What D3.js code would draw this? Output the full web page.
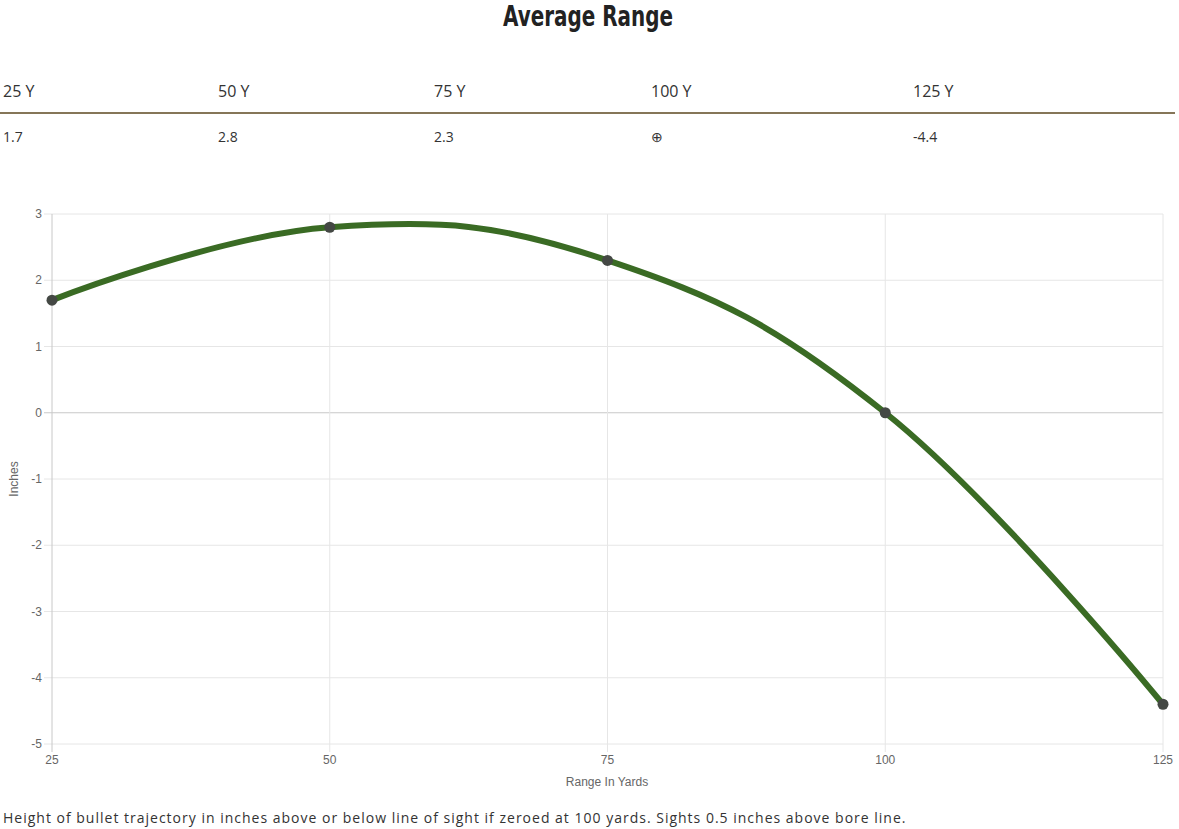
<!DOCTYPE html>
<html>
<head>
<meta charset="utf-8">
<script src="https://cdn.jsdelivr.net/npm/d3@7/dist/d3.min.js"></script>
<style>
  html, body { margin: 0; padding: 0; background: #fff; }
  svg { display: block; }
</style>
</head>
<body>
<svg id="chart" width="1179" height="829"></svg>
<script>
const title = "Average Range";
const ranges = [25, 50, 75, 100, 125];
const rangeLabels = ["25 Y", "50 Y", "75 Y", "100 Y", "125 Y"];
const tableValues = ["1.7", "2.8", "2.3", "\u2295", "-4.4"];
const heights = [1.7, 2.8, 2.3, 0, -4.4];
const yTicks = [3, 2, 1, 0, -1, -2, -3, -4, -5];
const xTicks = [25, 50, 75, 100, 125];
const xTitle = "Range In Yards";
const yTitle = "Inches";
const footnote = "Height of bullet trajectory in inches above or below line of sight if zeroed at 100 yards. Sights 0.5 inches above bore line.";

const svg = d3.select("#chart");

// Title
svg.append("text")
  .attr("x", 503).attr("y", 26)
  .attr("textLength", 170)
  .attr("lengthAdjust", "spacingAndGlyphs")
  .style("font-family", "'DejaVu Sans Condensed', 'Liberation Sans Narrow', 'Liberation Sans', sans-serif")
  .style("font-weight", "bold")
  .style("font-size", "28px")
  .style("fill", "#222")
  .text(title);

// Table
const colX = [3, 218, 434, 651, 913];
const col = d3.scaleOrdinal().domain(ranges).range(colX);
svg.selectAll("text.hdr").data(ranges).join("text")
  .attr("class", "hdr")
  .attr("x", d => col(d)).attr("y", 97)
  .style("font-family", "'Open Sans', sans-serif")
  .style("font-size", "16px")
  .style("fill", "#333")
  .text((d, i) => rangeLabels[i]);
svg.append("line")
  .attr("x1", 0).attr("x2", 1175).attr("y1", 113).attr("y2", 113)
  .attr("stroke", "#857658").attr("stroke-width", 2);
svg.selectAll("text.val").data(ranges).join("text")
  .attr("class", "val")
  .attr("x", d => col(d)).attr("y", 142)
  .style("font-family", "'Open Sans', sans-serif")
  .style("font-size", "14px")
  .style("fill", "#333")
  .text((d, i) => tableValues[i]);

// Chart
const x = d3.scaleLinear().domain([25, 125]).range([52, 1163]);
const y = d3.scaleLinear().domain([-5, 3]).range([744, 214]);

const g = svg.append("g");
const tickFont = "'Liberation Sans', Arial, sans-serif";

// horizontal grid
g.selectAll("line.hg").data(yTicks).join("line")
  .attr("class", "hg")
  .attr("x1", 44).attr("x2", x.range()[1])
  .attr("y1", d => y(d)).attr("y2", d => y(d))
  .attr("stroke", d => d === 0 ? "#c8c8c8" : "#e6e6e6")
  .attr("stroke-width", 1);
// vertical grid
g.selectAll("line.vg").data(xTicks).join("line")
  .attr("class", "vg")
  .attr("x1", d => x(d)).attr("x2", d => x(d))
  .attr("y1", y.range()[1]).attr("y2", 752)
  .attr("stroke", d => d === 25 ? "#c8c8c8" : "#e6e6e6")
  .attr("stroke-width", 1);

// y tick labels
g.selectAll("text.yt").data(yTicks).join("text")
  .attr("class", "yt")
  .attr("x", 42).attr("y", d => y(d) + 4)
  .attr("text-anchor", "end")
  .style("font-family", tickFont).style("font-size", "12px").style("fill", "#666")
  .text(d => d);
// x tick labels
g.selectAll("text.xt").data(xTicks).join("text")
  .attr("class", "xt")
  .attr("x", d => x(d)).attr("y", 764)
  .attr("text-anchor", "middle")
  .style("font-family", tickFont).style("font-size", "12px").style("fill", "#666")
  .text(d => d);

// axis titles
g.append("text")
  .attr("x", 607).attr("y", 786)
  .attr("text-anchor", "middle")
  .style("font-family", tickFont).style("font-size", "12px").style("fill", "#666")
  .text(xTitle);
g.append("text")
  .attr("transform", "translate(18,479) rotate(-90)")
  .attr("text-anchor", "middle")
  .style("font-family", tickFont).style("font-size", "12px").style("fill", "#666")
  .text(yTitle);

// line
const pts = ranges.map((r, i) => [r, heights[i]]);
const line = d3.line()
  .x(d => x(d[0])).y(d => y(d[1]))
  .curve(d3.curveCardinal.tension(-0.2));
g.append("path")
  .datum(pts)
  .attr("d", line)
  .attr("fill", "none")
  .attr("stroke", "#3a6b24")
  .attr("stroke-width", 6)
  .attr("stroke-linejoin", "round");

g.selectAll("circle.pt").data(pts).join("circle")
  .attr("class", "pt")
  .attr("cx", d => x(d[0])).attr("cy", d => y(d[1]))
  .attr("r", 5.5)
  .attr("fill", "#444844");

// footnote
svg.append("text")
  .attr("x", 3).attr("y", 823)
  .style("font-family", "'Open Sans', sans-serif")
  .style("font-size", "14px")
  .style("letter-spacing", "1px")
  .style("fill", "#333")
  .text(footnote);
</script>
</body>
</html>
